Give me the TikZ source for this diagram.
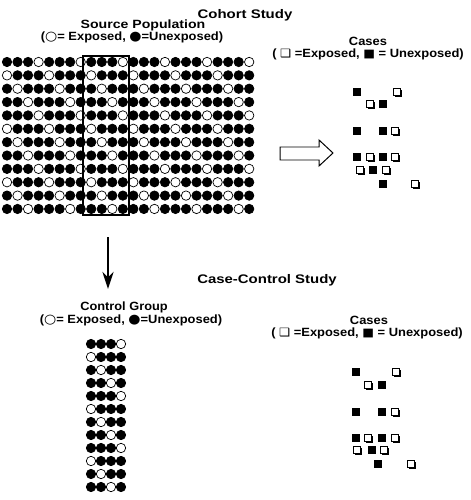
\documentclass[tikz,border=0pt]{standalone}
\usepackage{fontspec}
\usepackage{graphicx}
\usetikzlibrary{arrows.meta}
\setmainfont{Liberation Sans}
\newfontfamily\symf{DejaVu Sans}
\newcommand{\opcirc}{{\symf\fontsize{13}{14}\selectfont ○}}
\newcommand{\ficirc}{{\symf\fontsize{13}{14}\selectfont ●}}
\newcommand{\opsq}{{\symf\fontsize{11.5}{14}\selectfont ❑}}
\newcommand{\fisq}{{\symf\fontsize{11.5}{14}\selectfont ■}}
\newcommand{\wtext}[2]{\scalebox{#1}[1]{#2}}
\begin{document}
\begin{tikzpicture}[x=1bp,y=-1bp,
  lbl/.style={font=\bfseries\fontsize{12}{14}\selectfont, anchor=base, inner sep=0pt},
  head/.style={font=\bfseries\fontsize{12.5}{15}\selectfont, anchor=base, inner sep=0pt},
  opc/.style={circle, draw=black, fill=white, line width=0.7pt, minimum size=9.4bp, inner sep=0pt},
  fic/.style={circle, draw=black, fill=black, line width=0.7pt, minimum size=9.4bp, inner sep=0pt},
  fsq/.style={rectangle, fill=black, minimum size=8.6bp, inner sep=0pt},
  osq/.style={rectangle, draw=black, fill=white, line width=0.9pt, minimum size=7.6bp, inner sep=0pt},
  shd/.style={rectangle, fill=black, minimum size=7.6bp, inner sep=0pt},
  selbox/.style={draw=black, line width=2.4pt},
  downarrow/.style={line width=3pt, -{Stealth[length=17bp,width=11bp]}},
  blockarrow/.style={draw=black, line width=1pt, fill=white}
]
\useasboundingbox (0,0) rectangle (471,500);

% ---- headings
\node[head] (cohort) at (245,18.5) {\wtext{1.2}{Cohort Study}};
\node[lbl] (srcpop) at (143,28.3) {\wtext{1.18}{Source Population}};
\node[lbl] (srcleg) at (132,40.8) {\wtext{1.08}{(\opcirc= Exposed, \ficirc=Unexposed)}};

\node[lbl] (casestop) at (368,45.3) {\wtext{1.08}{Cases}};
\node[lbl] (casestopleg) at (368,57.3) {\wtext{1.08}{( \opsq\ =Exposed, \fisq\ = Unexposed)}};

\node[head] (ccstudy) at (267,283.5) {\wtext{1.2}{Case-Control Study}};
\node[lbl] (ctrlgrp) at (124,310.3) {\wtext{1.07}{Control Group}};
\node[lbl] (ctrlleg) at (131,323.3) {\wtext{1.08}{(\opcirc= Exposed, \ficirc=Unexposed)}};

\node[lbl] (casesbot) at (369,324.3) {\wtext{1.08}{Cases}};
\node[lbl] (casesbotleg) at (367,336.3) {\wtext{1.08}{( \opsq\ =Exposed, \fisq\ = Unexposed)}};

% ---- source population grid
\foreach \r in {0,...,11}{
  \foreach \k in {0,...,23}{
    \pgfmathtruncatemacro\op{mod(\k-\r+45,4)}
    \ifnum\op=0
      \node[opc] (g-\r-\k) at ({7+10.53*\k},{62+13.36*\r}) {};
    \else
      \node[fic] (g-\r-\k) at ({7+10.53*\k},{62+13.36*\r}) {};
    \fi
  }
}
\draw[selbox] (83,56) rectangle (129,215);

% ---- control group grid
\foreach \r in {0,...,11}{
  \foreach \k in {0,...,3}{
    \pgfmathtruncatemacro\op{mod(\k+8-\r+45,4)}
    \ifnum\op=0
      \node[opc] (c-\r-\k) at ({91+10*\k},{344+13*\r}) {};
    \else
      \node[fic] (c-\r-\k) at ({91+10*\k},{344+13*\r}) {};
    \fi
  }
}

% ---- arrows
\coordinate (dstart) at (108,237);
\coordinate (dend) at (108,289);
\draw[downarrow] (dstart) -- (dend);
\draw[blockarrow] (280,147) -- (319,147) -- (319,140) -- (333,153) -- (319,166) -- (319,160) -- (280,160) -- cycle;

% ---- cases squares
\newcommand{\osquare}[3]{%
  \node[shd] (#1s) at ({#2+1.4},{#3+1.4}) {};
  \node[osq] (#1) at (#2,#3) {};}
\newcommand{\fsquare}[3]{\node[fsq] (#1) at (#2,#3) {};}

% top
\fsquare{t1a}{357}{92}   \osquare{t1b}{397}{92}
\osquare{t2a}{370}{104}  \fsquare{t2b}{383}{104}
\fsquare{t3a}{357}{131}  \fsquare{t3b}{383}{131}  \osquare{t3c}{395}{131}
\fsquare{t4a}{357}{157}  \osquare{t4b}{370}{157}  \fsquare{t4c}{383}{157}  \osquare{t4d}{395}{157}
\osquare{t5a}{360}{170}  \fsquare{t5b}{373}{170}  \osquare{t5c}{386}{170}
\fsquare{t6a}{383}{184}  \osquare{t6b}{415}{184}
% bottom
\fsquare{b1a}{356}{372}  \osquare{b1b}{396}{372}
\osquare{b2a}{368}{385}  \fsquare{b2b}{382}{385}
\fsquare{b3a}{356}{412}  \fsquare{b3b}{382}{412}  \osquare{b3c}{395}{412}
\fsquare{b4a}{356}{438}  \osquare{b4b}{368}{438}  \fsquare{b4c}{382}{438}  \osquare{b4d}{395}{438}
\osquare{b5a}{357}{450}  \fsquare{b5b}{372}{450}  \osquare{b5c}{384}{450}
\fsquare{b6a}{378}{464}  \osquare{b6b}{411}{464}
\end{tikzpicture}
\end{document}
